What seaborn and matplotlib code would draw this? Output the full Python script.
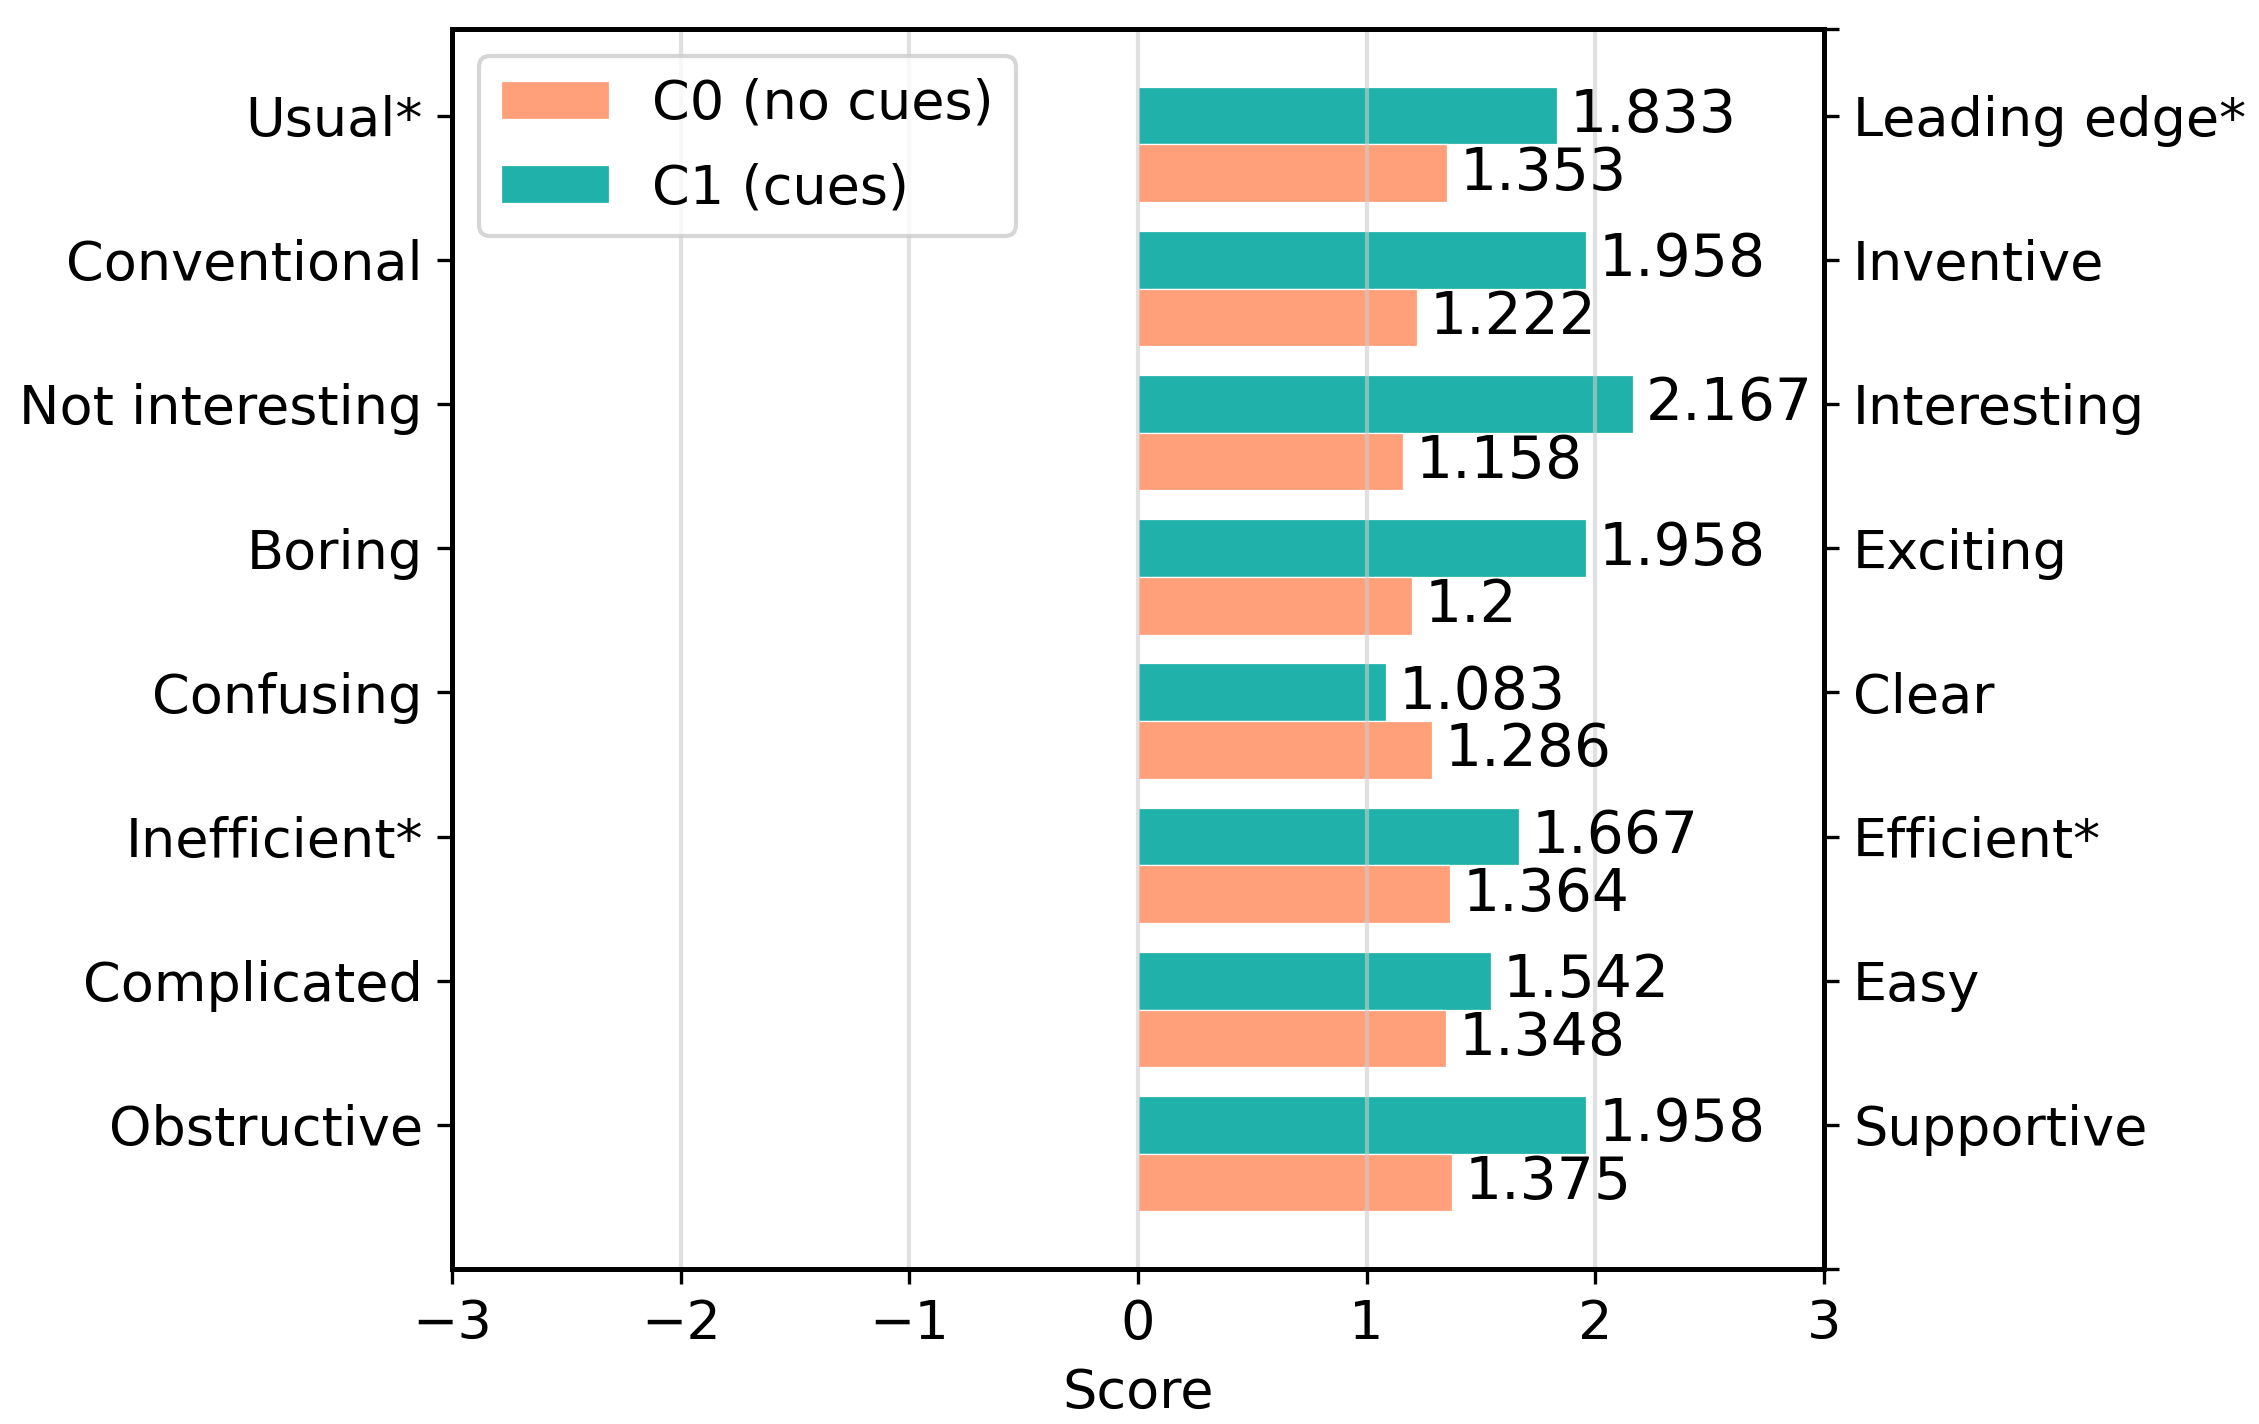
import matplotlib
matplotlib.use("Agg")
import matplotlib.pyplot as plt
import seaborn as sns
import pandas as pd
import numpy as np

left_labels = ["Usual*", "Conventional", "Not interesting", "Boring",
               "Confusing", "Inefficient*", "Complicated", "Obstructive"]
right_labels = ["Leading edge*", "Inventive", "Interesting", "Exciting",
                "Clear", "Efficient*", "Easy", "Supportive"]
c0_values = [1.353, 1.222, 1.158, 1.2, 1.286, 1.364, 1.348, 1.375]
c1_values = [1.833, 1.958, 2.167, 1.958, 1.083, 1.667, 1.542, 1.958]
series_names = ["C0 (no cues)", "C1 (cues)"]
colors = {"C0 (no cues)": "#FFA07A", "C1 (cues)": "#20B2AA"}

df = pd.DataFrame({
    "item": left_labels * 2,
    "score": c0_values + c1_values,
    "cond": [series_names[0]] * len(left_labels) + [series_names[1]] * len(left_labels),
})

sns.set_style("ticks")
plt.rcParams['font.family'] = ['DejaVu Sans']
plt.rcParams['text.color'] = 'black'
plt.rcParams['axes.labelcolor'] = 'black'
plt.rcParams['xtick.color'] = 'black'
plt.rcParams['ytick.color'] = 'black'

fig = plt.figure(figsize=(2259/300, 1424/300), dpi=300)
ax = fig.add_axes([0.2001, 0.1088, 0.8074 - 0.2001, 0.9796 - 0.1088])

sns.barplot(data=df, y="item", x="score", hue="cond",
            hue_order=[series_names[1], series_names[0]],
            order=left_labels, palette=colors, orient="h",
            width=0.8, ax=ax, errorbar=None, saturation=1,
            edgecolor="white", linewidth=0.3)

for cont in ax.containers:
    ax.bar_label(cont, labels=[f"{v:g}" for v in cont.datavalues],
                 padding=3, fontsize=14, color="black")

n = len(left_labels)
ticks = np.arange(n) - 0.2
ylo, yhi = n - 0.2, -0.8
ax.set_yticks(ticks)
ax.set_yticklabels(left_labels, fontsize=13)
ax.set_ylim(ylo, yhi)
ax.set_xlim(-3, 3)
ax.set_xticks(range(-3, 4))
ax.tick_params(axis="x", labelsize=13)
ax.set_xlabel("Score", fontsize=13)
ax.set_ylabel("")
ax.grid(axis="x", color="#cccccc", alpha=0.6, linewidth=1)
ax.set_axisbelow(False)
for s in ax.spines.values():
    s.set_visible(True)
    s.set_linewidth(1.2)
    s.set_color("black")

ax2 = ax.twinx()
ax2.set_ylim(ylo, yhi)
ax2.set_yticks([yhi] + list(ticks) + [ylo])
ax2.set_yticklabels([""] + right_labels + [""], fontsize=13)
ax2.grid(False)
for s in ax2.spines.values():
    s.set_linewidth(1.2)
    s.set_color("black")

handles, labels = ax.get_legend_handles_labels()
hmap = dict(zip(labels, handles))
ax.legend([hmap[s] for s in series_names], series_names, loc="upper left",
          fontsize=13, frameon=True, handlelength=2.0, borderpad=0.4,
          labelspacing=0.6)

fig.savefig("out.png", dpi=300)
